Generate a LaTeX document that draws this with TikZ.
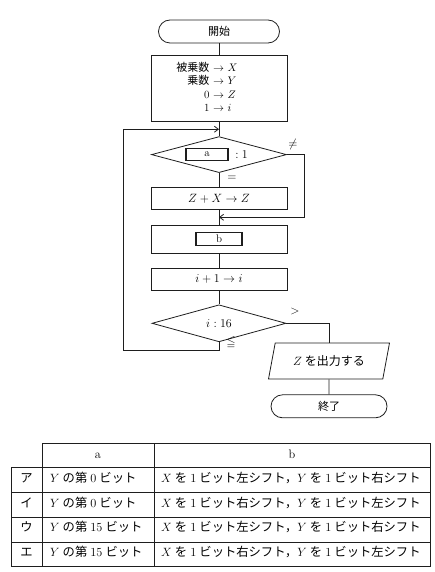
\documentclass[tikz,border=0pt]{standalone}
\usepackage{fontspec}
\usepackage{amssymb}
\newfontfamily\jpfont{Noto Sans CJK JP}
\newcommand{\ja}[1]{{\jpfont #1}}
\newcommand{\ks}{\hspace{0.25em}}
\usepackage{tikz}
\usetikzlibrary{arrows.meta,calc,positioning,shapes.geometric}
\definecolor{ink}{HTML}{1E1E1E}
\tikzset{
  font=\fontsize{11}{13.5}\selectfont,
  box/.style={
    draw=ink, line width=0.8pt, minimum width=136pt, inner sep=2pt
  },
  terminal/.style={box, rounded corners=11.5pt, minimum width=121pt, minimum height=23pt},
  process/.style={box, minimum height=22pt, font=\fontsize{12.5}{14}\selectfont},
  decision/.style={draw=ink, line width=0.8pt, diamond, minimum width=135pt, minimum height=36pt, inner sep=0pt,
    font=\fontsize{12.5}{14}\selectfont},
  io/.style={draw=ink, line width=0.8pt, trapezium, trapezium left angle=66, trapezium right angle=114,
    trapezium stretches body, minimum width=121pt, minimum height=36pt, inner sep=2pt,
    font=\fontsize{12}{14}\selectfont},
  blank/.style={draw=ink, line width=1.5pt, minimum width=42pt, minimum height=12pt, inner sep=0pt},
  branch/.style={inner sep=1pt, font=\fontsize{12}{14}\selectfont},
  flow/.style={draw=ink, line width=0.8pt},
  flowin/.style={flow, -{Straight Barb[length=4pt,width=6pt]}},
  rule/.style={draw=ink, line width=0.8pt},
  cell/.style={inner sep=0pt, text height=8.5pt, text depth=2.5pt, font=\fontsize{12.3}{14}\selectfont}
}
\begin{document}
\begin{tikzpicture}[x=1pt, y=-1pt, node distance=14pt]
  \useasboundingbox (0,0) rectangle (435,572);

  \node[terminal] (start) at (219,31.5) {\ja{開始}};
  \node[process, font=\fontsize{11}{13.5}\selectfont, minimum height=66pt, below=12pt of start] (init) {%
    \begin{tabular}{@{}r@{ $\rightarrow$ }l@{}}
      \ja{被乗数} & $X$\\
      \ja{乗数} & $Y$\\
      0 & $Z$\\
      1 & $i$
    \end{tabular}\hspace*{24pt}};
  \node[decision, below=14pt of init] (test) {};
  \node[blank] (slotA) at ($(test.center)+(-12,0)$) {a};
  \node[right=3pt of slotA, font=\fontsize{12}{14}\selectfont] (ratio) {$:1$};
  \node[process, below=14pt of test] (accum) {$Z+X\rightarrow Z$};
  \node[process, minimum height=28pt, below=15pt of accum] (shift) {};
  \node[blank, minimum width=46pt, minimum height=13pt] (slotB) at (shift.center) {b};
  \node[process, below=14pt of shift] (incr) {$i+1\rightarrow i$};
  \node[decision, minimum width=134pt, minimum height=37pt, below=14pt of incr] (limit) {$i:16$};
  \node[io] (output) at (329,361) {$Z$\ks\ja{を出力する}};
  \node[terminal, minimum width=116pt, below=15pt of output] (stop) {\ja{終了}};

  \node[branch] (ne) at (293,145) {$\neq$};
  \node[branch] (eq) at (232,178) {$=$};
  \node[branch] (gt) at (295,311) {$>$};
  \node[branch] (le) at (231,342) {$\leqq$};

  \foreach \from/\to in {start/init,init/test,test/accum,accum/shift,shift/incr,incr/limit,output/stop}
    \draw[flow] (\from) -- (\to);
  \coordinate (merge) at ($(accum.south)!.5!(shift.north)$);
  \draw[flowin] (test.east) -- ++(17,0) |- (merge);
  \coordinate (entry) at ($(init.south)!.5!(test.north)$);
  \coordinate (back) at (123,350);
  \draw[flowin] (limit.south) |- (back) |- (entry);
  \draw[flow] (limit.east) -| (output.north);

  \draw[rule] (42,443) rectangle (430,566);
  \draw[rule] (11,467) rectangle (42,566);
  \draw[rule] (154,443) -- (154,566);
  \foreach \y in {467,492,517,542}
    \draw[rule] (11,\y) -- (430,\y);
  \node[cell] (headA) at (98,455) {a};
  \node[cell] (headB) at (292,455) {b};
  \foreach \kana/\bit/\xdir/\ydir [count=\r] in {ア/0/左/右, イ/0/右/左, ウ/15/左/右, エ/15/右/左} {
    \node[cell] (kana\r) at (26.5,454.6+24.75*\r) {\ja{\kana}};
    \node[cell, anchor=west] (colA\r) at (50,454.6+24.75*\r) {$Y$\ks\ja{の第}\ks\bit\ks\ja{ビット}};
    \node[cell, anchor=west] (colB\r) at (161,454.6+24.75*\r)
      {$X$\ks\ja{を}\ks 1\ks\ja{ビット{\xdir}シフト，}$Y$\ks\ja{を}\ks 1\ks\ja{ビット{\ydir}シフト}};
  }
\end{tikzpicture}
\end{document}
